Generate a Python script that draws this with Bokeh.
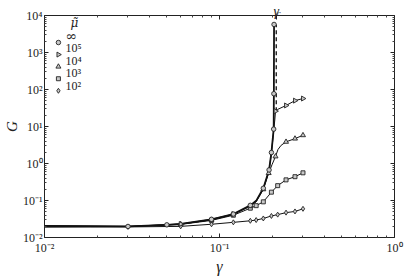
import math
from bokeh.plotting import figure
from bokeh.models import (FixedTicker, LogAxis, CustomJSTickFormatter, Label, Range1d)
from bokeh.embed import file_html
from bokeh.resources import INLINE

# ---------------- data ----------------
gamma_c = 0.211

# mu = infinity (circles)
gam_inf = [0.01, 0.03, 0.05, 0.06, 0.09, 0.12, 0.15, 0.162, 0.178, 0.192, 0.198, 0.204, 0.2045, 0.205]
G_inf = [0.0205, 0.0199, 0.0220, 0.0232, 0.031, 0.043, 0.074, 0.098, 0.214, 0.67, 1.98, 8.5, 77, 5730]
mk_gam_inf = [0.03, 0.05, 0.09, 0.12, 0.15, 0.178, 0.192, 0.198, 0.204, 0.2045, 0.205]
mk_G_inf = [0.0199, 0.0220, 0.031, 0.043, 0.074, 0.214, 0.67, 1.98, 8.5, 77, 5730]

# mu = 1e5 (right triangles)
gam_1e5 = [0.01, 0.03, 0.06, 0.09, 0.12, 0.15, 0.162, 0.178, 0.192, 0.198, 0.203, 0.207, 0.209, 0.215, 0.24, 0.27, 0.30]
G_1e5 = [0.0204, 0.0199, 0.0231, 0.031, 0.043, 0.073, 0.097, 0.21, 0.65, 1.9, 6.0, 15, 26, 29, 37, 50, 57]
mk_gam_1e5 = [0.06, 0.12, 0.209, 0.24, 0.27, 0.30]
mk_G_1e5 = [0.0231, 0.043, 26, 37, 50, 57]

# mu = 1e4 (triangles)
gam_1e4 = [0.01, 0.03, 0.06, 0.09, 0.12, 0.15, 0.162, 0.178, 0.191, 0.200, 0.209, 0.216, 0.225, 0.24, 0.27, 0.30]
G_1e4 = [0.0203, 0.0198, 0.0229, 0.030, 0.042, 0.070, 0.092, 0.20, 0.55, 0.95, 1.55, 2.4, 3.1, 3.85, 4.7, 5.8]
mk_gam_1e4 = [0.06, 0.09, 0.15, 0.178, 0.191, 0.209, 0.24, 0.27, 0.30]
mk_G_1e4 = [0.0229, 0.030, 0.070, 0.20, 0.55, 1.55, 3.85, 4.7, 5.8]

# mu = 1e3 (squares)
gam_1e3 = [0.01, 0.03, 0.06, 0.09, 0.12, 0.15, 0.162, 0.178, 0.198, 0.215, 0.24, 0.27, 0.30]
G_1e3 = [0.0202, 0.0197, 0.0226, 0.029, 0.040, 0.062, 0.0726, 0.092, 0.168, 0.252, 0.361, 0.44, 0.56]
mk_gam_1e3 = [0.09, 0.12, 0.15, 0.162, 0.178, 0.198, 0.215, 0.24, 0.27, 0.30]
mk_G_1e3 = [0.029, 0.040, 0.062, 0.0726, 0.092, 0.168, 0.252, 0.361, 0.44, 0.56]

# mu = 1e2 (diamonds)
gam_1e2 = [0.01, 0.03, 0.06, 0.09, 0.12, 0.15, 0.162, 0.178, 0.198, 0.215, 0.24, 0.27, 0.30]
G_1e2 = [0.019, 0.0193, 0.0200, 0.0228, 0.0257, 0.0283, 0.0296, 0.0327, 0.0382, 0.0415, 0.047, 0.0506, 0.0596]
mk_gam_1e2 = [0.03, 0.06, 0.09, 0.12, 0.15, 0.162, 0.178, 0.198, 0.215, 0.24, 0.27, 0.30]
mk_G_1e2 = [0.0193, 0.0200, 0.0228, 0.0257, 0.0283, 0.0296, 0.0327, 0.0382, 0.0415, 0.047, 0.0506, 0.0596]

legend_title = "\u03bc\u0303"
legend_labels = ["\u221e", "10\u2075", "10\u2074", "10\u00b3", "10\u00b2"]
x_label = "\u03b3"
y_label = "G"
gc_main = "\u03b3"
gc_sub = "c"
x_major = [1e-2, 1e-1, 1e0]
y_major = [1e-2, 1e-1, 1e0, 1e1, 1e2, 1e3, 1e4]

# ---------------- figure ----------------
FONT = "Liberation Serif"
INK = "#222222"
FW, FH = 352, 230  # frame size in px
XMIN, XMAX, YMIN, YMAX = 1e-2, 1e0, 1e-2, 1e4
p = figure(width=415, height=277, x_axis_type="log", y_axis_type="log",
           x_range=Range1d(XMIN, XMAX), y_range=Range1d(YMIN, YMAX),
           output_backend="svg", toolbar_location=None,
           min_border_left=42, min_border_right=21, min_border_top=13, min_border_bottom=34)
p.xgrid.visible = False
p.ygrid.visible = False
p.outline_line_color = None
p.background_fill_color = "white"

def minors(majors):
    out = []
    for m in majors[:-1]:
        out += [m * k for k in range(2, 10)]
    return out

fmt_code = """
const sup = {"-": "\u207b", "0": "\u2070", "1": "\u00b9", "2": "\u00b2", "3": "\u00b3",
             "4": "\u2074", "5": "\u2075", "6": "\u2076", "7": "\u2077", "8": "\u2078", "9": "\u2079"};
const e = Math.round(Math.log10(tick));
return "10" + String(e).split("").map(c => sup[c]).join("");
"""
blank_code = 'return "";'

def style_axis(ax, ticker, code, size="12px"):
    ax.ticker = ticker
    ax.formatter = CustomJSTickFormatter(code=code)
    ax.major_tick_in = 4
    ax.major_tick_out = 0
    ax.minor_tick_in = 2
    ax.minor_tick_out = 0
    ax.axis_line_color = INK
    ax.major_tick_line_color = INK
    ax.minor_tick_line_color = "#444444"
    ax.axis_line_width = 1
    ax.major_label_text_font = FONT
    ax.major_label_text_font_size = size
    ax.major_label_text_color = INK
    ax.major_label_standoff = 3

# bottom axis
xa = p.xaxis[0]
style_axis(xa, FixedTicker(ticks=x_major, minor_ticks=minors(x_major)), fmt_code)
xa.axis_label = x_label
xa.axis_label_text_font = FONT
xa.axis_label_text_font_style = "italic"
xa.axis_label_text_font_size = "16px"
xa.axis_label_text_color = INK
xa.axis_label_standoff = 0

# left axis
ya = p.yaxis[0]
style_axis(ya, FixedTicker(ticks=y_major, minor_ticks=minors(y_major)), fmt_code)
ya.major_label_standoff = 2
ya.axis_label = y_label
ya.axis_label_text_font = FONT
ya.axis_label_text_font_style = "italic"
ya.axis_label_text_font_size = "15px"
ya.axis_label_text_color = INK
ya.axis_label_standoff = 0

# top axis: ticks plus the gamma_c mark
gc_code = """
if (Math.abs(tick - %r) < 1e-9) { return "%s"; }
return "";
""" % (gamma_c, gc_main)
top_ax = LogAxis()
style_axis(top_ax, FixedTicker(ticks=x_major + [gamma_c], minor_ticks=minors(x_major)), gc_code, size="14px")
top_ax.major_label_text_font_style = "italic"
top_ax.major_label_standoff = -3
p.add_layout(top_ax, "above")

# second (invisible) top axis carrying the subscript
sub_code = 'return "%s";' % gc_sub
sub_ax = LogAxis()
style_axis(sub_ax, FixedTicker(ticks=[gamma_c * 1.035], minor_ticks=[]), sub_code, size="9px")
sub_ax.major_label_text_font_style = "italic"
sub_ax.axis_line_alpha = 0
sub_ax.major_tick_in = 0
sub_ax.minor_tick_in = 0
sub_ax.major_label_standoff = -17
p.add_layout(sub_ax, "above")

# right axis: ticks only
right_ax = LogAxis()
style_axis(right_ax, FixedTicker(ticks=y_major, minor_ticks=minors(y_major)), blank_code, size="0px")
right_ax.major_label_standoff = 0
p.add_layout(right_ax, "right")

# critical line
p.line([gamma_c, gamma_c], [G_1e5[12], G_inf[-1]], line_color="#111111", line_width=1.3, line_dash="4 3")

series = [
    (gam_1e2, G_1e2, mk_gam_1e2, mk_G_1e2, "diamond", 0.0, 1.0, 5),
    (gam_1e3, G_1e3, mk_gam_1e3, mk_G_1e3, "square", 0.0, 1.0, 4),
    (gam_1e4, G_1e4, mk_gam_1e4, mk_G_1e4, "triangle", 0.0, 1.0, 5),
    (gam_1e5, G_1e5, mk_gam_1e5, mk_G_1e5, "triangle", -math.pi / 2, 1.0, 5),
    (gam_inf, G_inf, mk_gam_inf, mk_G_inf, "circle", 0.0, 1.8, 4.5),
]
MK_STYLE = dict(fill_color="#c8c8c8", line_color=INK, line_width=0.9)
for g, G, mg, mG, mk, ang, lw, sz in series:
    p.line(g, G, line_color="#111111", line_width=lw)
for g, G, mg, mG, mk, ang, lw, sz in series:
    p.scatter(mg, mG, marker=mk, angle=ang, size=sz, **MK_STYLE)

# ---------------- legend (keys placed by frame pixel offsets through the log scales) ----------------
def frame_to_data(px_from_left, px_from_top):
    lx = math.log10(XMIN) + px_from_left / FW * (math.log10(XMAX) - math.log10(XMIN))
    ly = math.log10(YMAX) - px_from_top / FH * (math.log10(YMAX) - math.log10(YMIN))
    return 10 ** lx, 10 ** ly

row_tops = [28 + 12.5 * i for i in range(5)]
key_order = [4, 3, 2, 1, 0]  # inf, 1e5, 1e4, 1e3, 1e2
for i, (label, row, k) in enumerate(zip(legend_labels, row_tops, key_order)):
    kx, ky = frame_to_data(14, row)
    _, _, _, _, mk, ang, _, sz = series[k]
    p.scatter([kx], [ky], marker=mk, angle=ang, size=sz, **MK_STYLE)
    p.add_layout(Label(x=21, y=FH - row, x_units="screen", y_units="screen", text=label,
                       text_font=("DejaVu Serif" if i == 0 else FONT),
                       text_font_size=("14px" if i == 0 else "12px"), text_color=INK,
                       text_align="left", text_baseline="middle"))

p.add_layout(Label(x=26, y=FH - 15, x_units="screen", y_units="screen", text=legend_title,
                   text_font="DejaVu Serif", text_font_style="italic", text_font_size="12px",
                   text_color=INK, text_align="left", text_baseline="middle"))

open("out.html", "w").write(file_html(p, INLINE))
